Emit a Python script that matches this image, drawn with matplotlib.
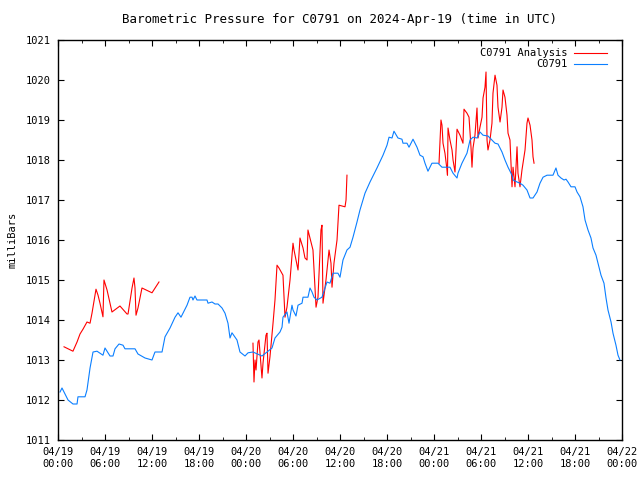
import numpy as np
import pandas as pd
import matplotlib
matplotlib.use("Agg")
import matplotlib.pyplot as plt
import matplotlib.dates as mdates

start = pd.Timestamp("2024-04-19 00:00")

# observed station pressure: hours since 04/19 00:00 UTC, millibars
obs_hours = [0.26, 0.51, 1.28, 1.91, 2.43, 2.55, 3.45, 3.70, 4.09, 4.47, 4.98, 5.74, 6.0, 6.64,
             7.02, 7.28, 7.79, 8.30, 8.55, 9.83, 10.21, 11.11, 12.0, 12.38, 13.28, 13.66, 14.30,
             14.94, 15.32, 15.70, 16.47, 16.85, 17.11, 17.23, 17.49, 17.74, 19.02, 19.15, 19.66,
             20.04, 20.43, 20.94, 21.32, 21.70, 21.96, 22.21, 22.85, 23.23, 23.87, 24.26, 24.89,
             26.04, 26.68, 27.32, 27.70, 28.34, 28.60, 28.72, 29.23, 29.49, 29.87, 30.0, 30.38,
             30.64, 31.15, 31.28, 31.91, 32.17, 32.43, 32.68, 33.06, 33.70, 34.34, 34.72, 35.11,
             35.74, 36.0, 36.38, 36.89, 37.28, 37.66, 38.17, 38.55, 39.19, 39.83, 40.72, 41.49,
             42.0, 42.26, 42.64, 42.89, 43.40, 43.91, 44.04, 44.55, 44.81, 45.32, 45.83, 46.21,
             46.60, 46.85, 47.23, 47.74, 48.51, 49.02, 50.04, 50.43, 50.94, 51.06, 51.57, 52.21,
             52.60, 52.98, 53.49, 53.87, 54.26, 54.89, 55.40, 55.79, 56.17, 56.68, 57.06, 57.45,
             57.96, 58.09, 58.60, 58.98, 59.36, 59.87, 60.26, 60.64, 61.15, 61.53, 61.92, 62.43,
             63.19, 63.57, 63.83, 64.21, 64.60, 64.85, 65.11, 65.49, 66.0, 66.26, 66.64, 67.02,
             67.28, 67.66, 68.04, 68.30, 68.68, 68.94, 69.32, 69.70, 69.96, 70.21, 70.60, 70.85,
             71.23, 71.49, 71.74]
obs_mb = [1012.2, 1012.3, 1012.0, 1011.9, 1011.9, 1012.08, 1012.08, 1012.25, 1012.8, 1013.2,
          1013.22, 1013.12, 1013.3, 1013.1, 1013.1, 1013.28, 1013.4, 1013.37, 1013.28, 1013.28,
          1013.15, 1013.05, 1013.0, 1013.2, 1013.2, 1013.58, 1013.8, 1014.07, 1014.18, 1014.07,
          1014.37, 1014.57, 1014.57, 1014.5, 1014.6, 1014.5, 1014.5, 1014.42, 1014.45, 1014.4,
          1014.4, 1014.3, 1014.17, 1013.92, 1013.55, 1013.68, 1013.5, 1013.2, 1013.1, 1013.18,
          1013.2, 1013.1, 1013.2, 1013.3, 1013.55, 1013.7, 1013.82, 1014.07, 1014.2, 1013.92,
          1014.37, 1014.25, 1014.1, 1014.37, 1014.42, 1014.57, 1014.57, 1014.8, 1014.7, 1014.57,
          1014.5, 1014.57, 1014.95, 1014.92, 1015.17, 1015.17, 1015.07, 1015.5, 1015.75, 1015.82,
          1016.07, 1016.45, 1016.75, 1017.17, 1017.45, 1017.8, 1018.12, 1018.37, 1018.57, 1018.55,
          1018.72, 1018.55, 1018.52, 1018.42, 1018.42, 1018.32, 1018.52, 1018.32, 1018.12, 1018.08,
          1017.92, 1017.72, 1017.92, 1017.92, 1017.82, 1017.82, 1017.67, 1017.55, 1017.67, 1017.92,
          1018.17, 1018.5, 1018.57, 1018.55, 1018.7, 1018.62, 1018.6, 1018.5, 1018.42, 1018.4,
          1018.2, 1018.0, 1017.82, 1017.62, 1017.5, 1017.45, 1017.42, 1017.37, 1017.25, 1017.05,
          1017.05, 1017.2, 1017.42, 1017.57, 1017.62, 1017.62, 1017.8, 1017.62, 1017.55, 1017.5,
          1017.52, 1017.45, 1017.33, 1017.33, 1017.2, 1017.08, 1016.83, 1016.5, 1016.25, 1016.05,
          1015.8, 1015.62, 1015.42, 1015.12, 1014.92, 1014.55, 1014.25, 1013.95, 1013.67, 1013.37,
          1013.12, 1013.0]

# analysis pressure, three separate runs
ana1_hours = [0.77, 1.28, 1.91, 2.43, 2.81, 3.19, 3.70, 4.09, 4.34, 4.85, 5.11, 5.36, 5.74, 5.87,
              6.26, 6.89, 7.91, 8.81, 8.94, 9.45, 9.70, 9.83, 9.96, 10.21, 10.72, 12.0, 12.89]
ana1_mb = [1013.33, 1013.28, 1013.22, 1013.45, 1013.65, 1013.77, 1013.95, 1013.92, 1014.17,
           1014.77, 1014.62, 1014.42, 1014.08, 1015.0, 1014.75, 1014.2, 1014.35, 1014.15, 1014.15,
           1014.8, 1015.05, 1014.8, 1014.12, 1014.3, 1014.8, 1014.68, 1014.95]

ana2_hours = [24.89, 25.02, 25.15, 25.28, 25.53, 25.66, 26.04, 26.17, 26.55, 26.68, 26.81, 27.06,
              27.45, 27.70, 27.96, 28.21, 28.72, 28.85, 28.98, 29.23, 29.62, 30.0, 30.13, 30.38,
              30.64, 30.89, 31.28, 31.53, 31.79, 31.91, 32.17, 32.55, 32.81, 32.94, 33.19, 33.57,
              33.70, 33.83, 34.21, 34.60, 34.85, 34.98, 35.23, 35.62, 35.87, 36.64, 36.77, 36.89]
ana2_mb = [1013.42, 1012.45, 1013.0, 1012.75, 1013.45, 1013.5, 1012.55, 1012.92, 1013.62,
           1013.67, 1012.67, 1013.08, 1013.92, 1014.5, 1015.37, 1015.3, 1015.12, 1014.57, 1014.07,
           1014.32, 1015.0, 1015.92, 1015.75, 1015.5, 1015.25, 1016.05, 1015.8, 1015.55, 1015.5,
           1016.25, 1016.05, 1015.75, 1014.82, 1014.32, 1014.57, 1016.25, 1016.37, 1014.42, 1015.0,
           1015.75, 1015.42, 1014.82, 1015.42, 1016.0, 1016.87, 1016.83, 1017.0, 1017.62]

ana3_hours = [48.64, 48.89, 49.02, 49.15, 49.40, 49.66, 49.72, 49.79, 50.04, 50.30, 50.43, 50.68,
              50.94, 51.32, 51.70, 51.83, 52.21, 52.47, 52.72, 52.85, 52.98, 53.23, 53.49, 53.62,
              53.87, 54.13, 54.26, 54.51, 54.64, 54.77, 54.89, 55.15, 55.40, 55.53, 55.79, 56.04,
              56.17, 56.43, 56.68, 56.81, 57.06, 57.32, 57.45, 57.70, 57.96, 58.09, 58.34, 58.60,
              58.72, 58.98, 59.23, 59.62, 59.87, 60.0, 60.26, 60.51, 60.64, 60.77]
ana3_mb = [1017.92, 1019.0, 1018.87, 1018.42, 1018.17, 1017.75, 1017.62, 1018.8, 1018.5, 1018.25,
           1018.0, 1017.7, 1018.77, 1018.62, 1018.42, 1019.27, 1019.17, 1019.07, 1018.33, 1017.82,
           1018.3, 1018.62, 1019.3, 1018.55, 1018.82, 1019.07, 1019.55, 1019.82, 1020.2, 1018.5,
           1018.25, 1018.5, 1018.92, 1019.67, 1020.12, 1019.87, 1019.32, 1018.95, 1019.32, 1019.75,
           1019.57, 1019.12, 1018.67, 1018.5, 1017.33, 1017.82, 1017.33, 1018.33, 1017.67, 1017.33,
           1017.75, 1018.25, 1018.92, 1019.05, 1018.87, 1018.5, 1018.08, 1017.92]


def to_time(hours):
    return start + pd.to_timedelta(np.array(hours), unit="h")


plt.rcParams['font.family'] = ['DejaVu Sans Mono']
plt.rcParams['font.size'] = 7.5

fig = plt.figure(figsize=(6.4, 4.8), dpi=100)
ax = fig.add_axes([58 / 640, 40 / 480, 564 / 640, 400 / 480])

# analysis runs joined with NaN gaps so they show as one legend entry
ana_t = np.concatenate([to_time(ana1_hours), [pd.NaT], to_time(ana2_hours), [pd.NaT], to_time(ana3_hours)])
ana_p = np.concatenate([ana1_mb, [np.nan], ana2_mb, [np.nan], ana3_mb])
ax.plot(pd.DatetimeIndex(ana_t), ana_p, color='#ff0000', lw=0.8, label='C0791 Analysis')
ax.plot(to_time(obs_hours), obs_mb, color='#0a7fff', lw=0.8, label='C0791')

ax.set_xlim(start, start + pd.Timedelta(hours=72))
ax.set_ylim(1011, 1021)
ax.set_yticks(np.arange(1011, 1022, 1))
ax.xaxis.set_major_locator(mdates.HourLocator(byhour=[0, 6, 12, 18]))
ax.xaxis.set_minor_locator(mdates.HourLocator(byhour=[3, 9, 15, 21]))
ax.xaxis.set_major_formatter(mdates.DateFormatter('%m/%d\n%H:%M'))
ax.tick_params(which='both', direction='in', top=True, right=True, color='black')
ax.tick_params(which='major', length=4, pad=5)
ax.tick_params(which='minor', length=2)
for s in ax.spines.values():
    s.set_linewidth(1.0)

ax.set_ylabel('milliBars', labelpad=6)
ax.set_title('Barometric Pressure for C0791 on 2024-Apr-19 (time in UTC)', pad=12)

ax.legend(loc='upper right', bbox_to_anchor=(0.985, 0.995), frameon=False, markerfirst=False,
          handlelength=3.2, borderaxespad=0.2, labelspacing=0.1, handletextpad=0.6)

fig.savefig('out.png', dpi=100)
